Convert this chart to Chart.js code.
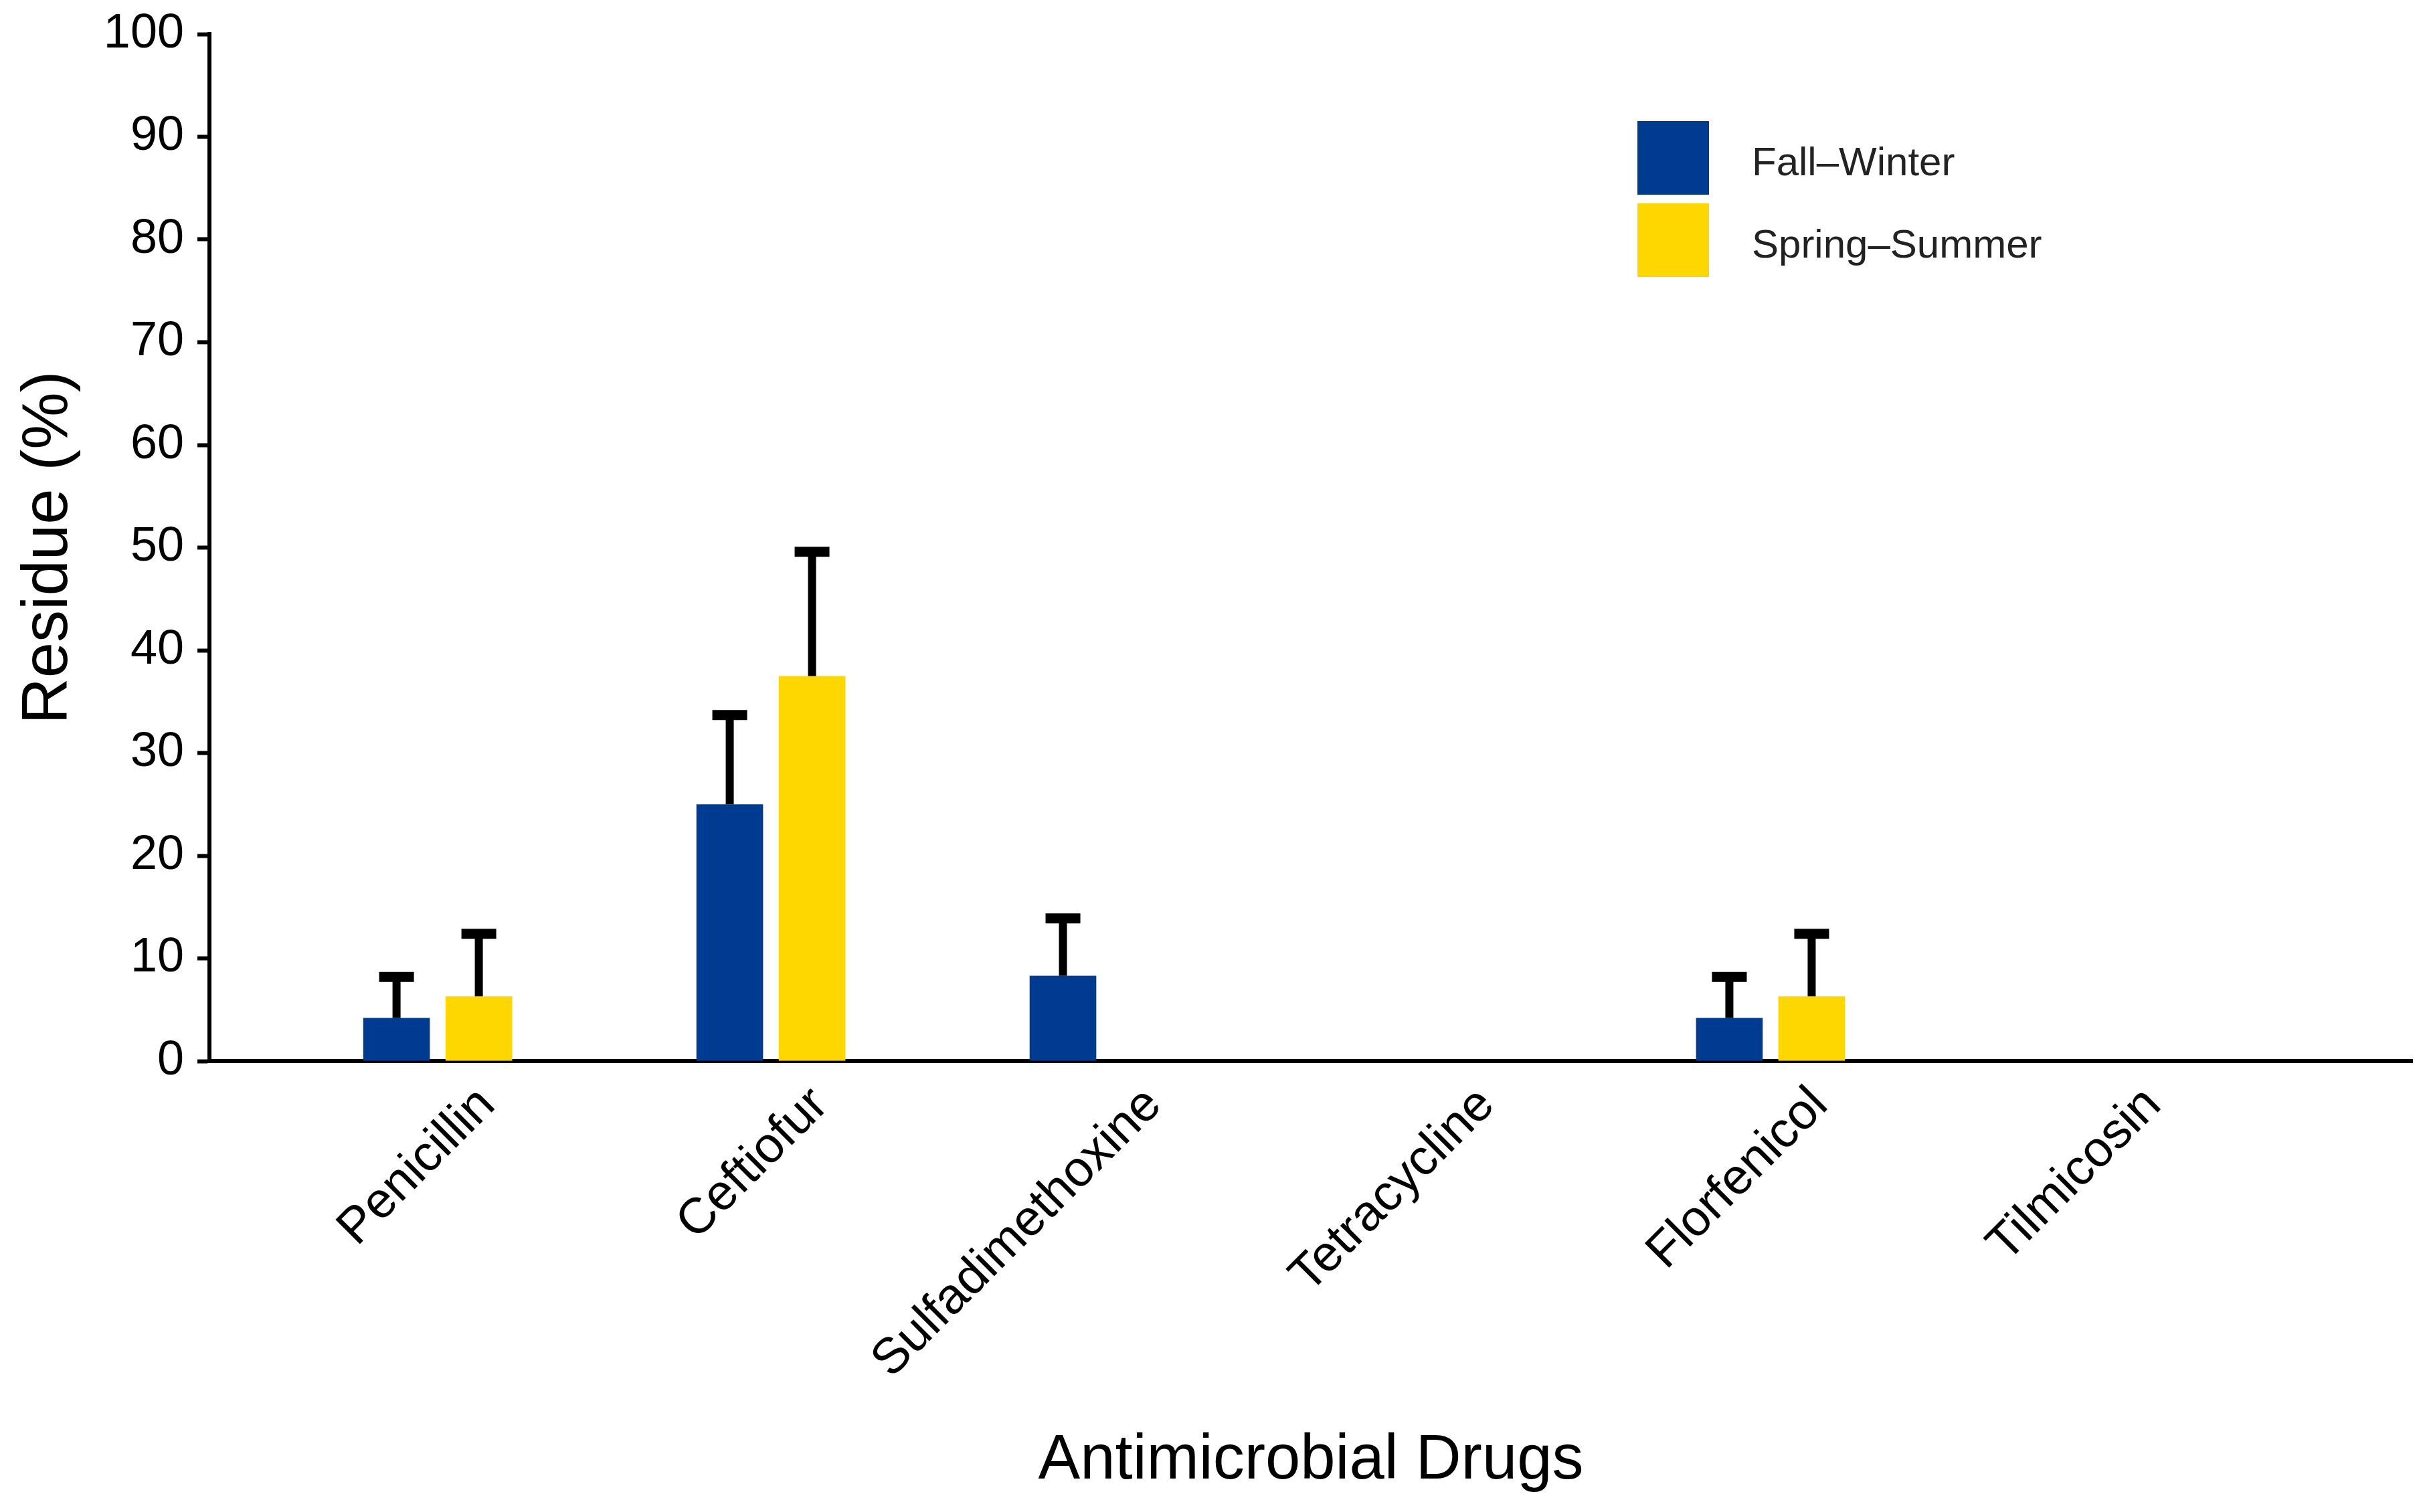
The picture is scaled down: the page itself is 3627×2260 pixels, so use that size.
<!DOCTYPE html>
<html>
<head>
<meta charset="utf-8">
<script src="https://cdn.jsdelivr.net/npm/chart.js@4.4.1/dist/chart.umd.min.js"></script>
<style>
  html, body { margin: 0; padding: 0; background: #fff; }
  canvas { display: block; }
</style>
</head>
<body>
<canvas id="residueChart" width="3627" height="2260"></canvas>
<script>
// Data
const drugs = ['Penicillin', 'Ceftiofur', 'Sulfadimethoxine', 'Tetracycline', 'Florfenicol', 'Tilmicosin']
const fallWinter = [4.2, 25, 8.3, 0, 4.2, 0]
const fallWinterErr = [8.2, 33.7, 13.9, 0, 8.2, 0]
const springSummer = [6.3, 37.5, 0, 0, 6.3, 0]
const springSummerErr = [12.4, 49.6, 0, 0, 12.4, 0]
const yTicks = [0, 10, 20, 30, 40, 50, 60, 70, 80, 90, 100]

const FONT = "'Liberation Sans', Arial, sans-serif"
const BLUE = '#003B92'
const YELLOW = '#FFD700'

// Error bars (upper only)
const errorBars = {
  id: 'errorBars',
  afterDatasetsDraw(chart) {
    const ctx = chart.ctx
    const y = chart.scales.y
    chart.data.datasets.forEach((ds, i) => {
      const meta = chart.getDatasetMeta(i)
      meta.data.forEach((bar, j) => {
        const v = ds.data[j].y
        const e = ds.errors[j]
        if (!v || !e) return
        const top = y.getPixelForValue(e)
        ctx.save()
        ctx.strokeStyle = '#000'
        ctx.lineWidth = 12
        ctx.beginPath()
        ctx.moveTo(bar.x, bar.y)
        ctx.lineTo(bar.x, top)
        ctx.stroke()
        ctx.lineWidth = 15
        ctx.beginPath()
        ctx.moveTo(bar.x - 26, top)
        ctx.lineTo(bar.x + 26, top)
        ctx.stroke()
        ctx.restore()
      })
    })
  }
}

// Legend box in the upper right
const boxLegend = {
  id: 'boxLegend',
  afterDraw(chart) {
    const ctx = chart.ctx
    ctx.save()
    ctx.font = '60px ' + FONT
    ctx.textBaseline = 'middle'
    ctx.textAlign = 'left'
    chart.data.datasets.forEach((ds, i) => {
      const top = 181 + i * 123
      ctx.fillStyle = ds.backgroundColor
      ctx.fillRect(2447, top, 107, 110)
      ctx.fillStyle = '#222'
      ctx.fillText(ds.label, 2618, top + 64)
    })
    ctx.restore()
  }
}

const ctx = document.getElementById('residueChart').getContext('2d')

new Chart(ctx, {
  type: 'bar',
  data: {
    datasets: [
      {
        label: 'Fall\u2013Winter',
        data: fallWinter.map((v, i) => ({ x: i, y: v })),
        errors: fallWinterErr,
        backgroundColor: BLUE,
      },
      {
        label: 'Spring\u2013Summer',
        data: springSummer.map((v, i) => ({ x: i, y: v })),
        errors: springSummerErr,
        backgroundColor: YELLOW,
      },
    ],
  },
  options: {
    responsive: false,
    devicePixelRatio: 1,
    animation: false,
    categoryPercentage: 0.494,
    barPercentage: 0.81,
    layout: { padding: { top: 51, right: 22, left: 0, bottom: 0 } },
    scales: {
      x: {
        type: 'linear',
        offset: false,
        min: -0.685,
        max: 5.926,
        afterFit(scale) { scale.height = 674 },
        afterBuildTicks(scale) {
          scale.ticks = drugs.map((d, i) => ({ value: i }))
        },
        grid: { display: false, drawTicks: false },
        border: { display: true, color: '#000', width: 6 },
        ticks: {
          autoSkip: false,
          minRotation: 45,
          maxRotation: 45,
          labelOffset: 74,
          padding: 22,
          color: '#000',
          font: { family: FONT, size: 75 },
          callback: (v) => drugs[v],
        },
        title: {
          display: true,
          text: 'Antimicrobial Drugs',
          color: '#000',
          font: { family: FONT, size: 94 },
          padding: { top: 0, bottom: 20 },
        },
      },
      y: {
        min: 0,
        max: 100,
        afterFit(scale) {
          scale.width = 313
          scale.paddingTop = 0
          scale.paddingBottom = 0
        },
        afterBuildTicks(scale) {
          scale.ticks = yTicks.map((v) => ({ value: v }))
        },
        grid: {
          display: true,
          drawOnChartArea: false,
          drawTicks: true,
          tickLength: 18,
          tickWidth: 6,
          color: '#000',
        },
        border: { display: true, color: '#000', width: 6 },
        ticks: {
          padding: 20,
          color: '#000',
          font: { family: FONT, size: 72 },
        },
        title: {
          display: true,
          text: 'Residue (%)',
          color: '#000',
          font: { family: FONT, size: 96 },
          padding: { top: 16, bottom: 0 },
        },
      },
    },
    plugins: {
      legend: { display: false },
      tooltip: { enabled: false },
    },
  },
  plugins: [errorBars, boxLegend],
})
</script>
</body>
</html>
